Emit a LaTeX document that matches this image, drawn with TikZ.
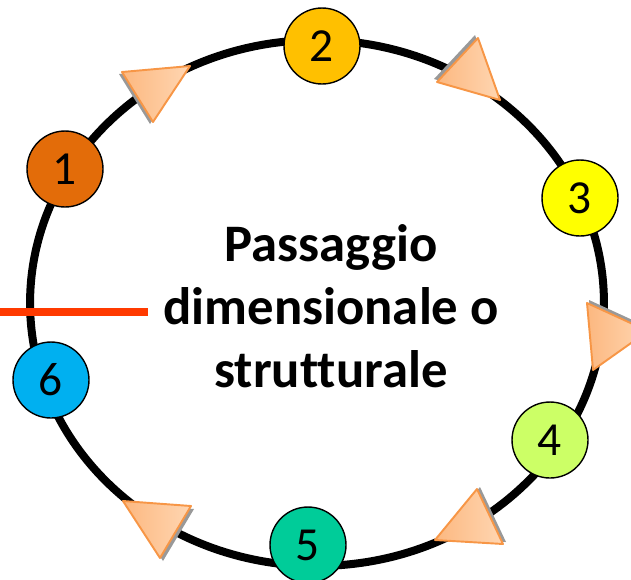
\documentclass[tikz,border=0pt]{standalone}
\usepackage{fontspec}
\setmainfont[Ligatures=NoCommon]{Carlito}
\definecolor{ringblack}{RGB}{0,0,0}
\definecolor{stubred}{RGB}{255,58,0}
\definecolor{triedge}{RGB}{247,150,70}
\definecolor{trifillA}{RGB}{252,184,128}
\definecolor{trifillB}{RGB}{255,214,178}
\definecolor{c1}{RGB}{227,108,9}
\definecolor{c2}{RGB}{255,192,0}
\definecolor{c3}{RGB}{255,255,0}
\definecolor{c4}{RGB}{204,255,102}
\definecolor{c5}{RGB}{0,204,153}
\definecolor{c6}{RGB}{0,176,240}
\usetikzlibrary{positioning}

\begin{document}
\begin{tikzpicture}[
      x=0.02cm, y=-0.02cm,
      ring/.style={draw=ringblack, line width=0.16cm},
      stub/.style={draw=stubred, line width=0.16cm},
      num/.style={circle, draw=black, line width=0.8pt, minimum size=1.52cm,
                  inner sep=0pt, font=\fontsize{27}{30}\selectfont},
      tri/.style={draw=triedge, line width=1.1pt, line join=round,
                  left color=trifillA, right color=trifillB},
      trishade/.style={fill=black!40}
    ]
    \useasboundingbox (0,0) rectangle (631,579);

    % big loop
    \draw[ring] (317,303) ellipse [x radius=5.74cm, y radius=5.26cm];

    % entry line
    \coordinate (stubL) at (0,312);
    \coordinate (stubR) at (148,312);
    \draw[stub] (stubL) -- (stubR);

    % arrow heads on the loop, with their shadows
    \fill[trishade, shift={(-3,2)}]  (122,72) -- (190,66) -- (153,122) -- cycle;
    \draw[tri] (122,72) -- (190,66) -- (153,122) -- cycle;
    \fill[trishade, shift={(-3,-3)}] (437,82) -- (478,38) -- (500,100) -- cycle;
    \draw[tri] (437,82) -- (478,38) -- (500,100) -- cycle;
    \fill[trishade, shift={(2,-3)}]  (587,303) -- (648,331) -- (593,370) -- cycle;
    \draw[tri] (587,303) -- (648,331) -- (593,370) -- cycle;
    \fill[trishade, shift={(3,-2)}]  (435,540) -- (477,489) -- (503,544) -- cycle;
    \draw[tri] (435,540) -- (477,489) -- (503,544) -- cycle;
    \fill[trishade, shift={(3,3)}]   (123,501) -- (191,506) -- (160,558) -- cycle;
    \draw[tri] (123,501) -- (191,506) -- (160,558) -- cycle;

    % numbered steps
    \node[num, fill=c1] (step1) at (65,169)  {1};
    \node[num, fill=c2] (step2) at (322,46)  {2};
    \node[num, fill=c3] (step3) at (580,198) {3};
    \node[num, fill=c4] (step4) at (550,440) {4};
    \node[num, fill=c5] (step5) at (308,545) {5};
    \node[num, fill=c6] (step6) at (51,380)  {6};

    % title
    \node[align=center, font=\fontsize{30}{36}\bfseries] (title) at (331,306)
      {Passaggio\\dimensionale o\\strutturale};
  \end{tikzpicture}
\end{document}
